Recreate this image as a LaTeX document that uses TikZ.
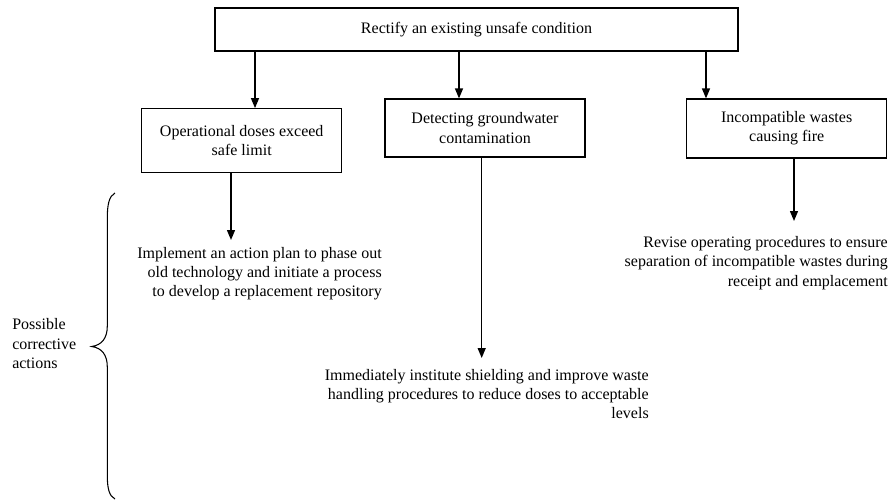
\documentclass[tikz,border=0pt]{standalone}
\usepackage{fontspec}
\setmainfont{Liberation Serif}
\usetikzlibrary{arrows.meta}
\begin{document}
\begin{tikzpicture}[x=0.75pt,y=-0.75pt,
  every node/.style={font=\fontsize{12}{14.4}\selectfont},
  box/.style={draw,line width=0.9pt,align=center,minimum width=150pt,inner sep=2pt},
  txt/.style={inner xsep=0pt,align=right,anchor=north east},
  arr/.style={line width=1pt,-{Triangle[length=7.5pt,width=6pt]}},
  brace/.style={line width=0.8pt}]
\useasboundingbox (0,0) rectangle (894,501);
% boxes
\node[box,minimum width=392.25pt,minimum height=32.25pt] (top) at (476.5,29.5) {Rectify an existing unsafe condition};
\node[box,minimum height=48pt] (b1) at (241.7,140.7) {Operational doses exceed\\safe limit};
\node[box,minimum height=43.5pt] (b2) at (485,128) {Detecting groundwater\\contamination};
\node[box,minimum height=44.25pt] (b3) at (786.7,128.5) {Incompatible wastes\\causing fire};
% action texts
\node[txt,inner ysep=5.25pt] (t1) at (382,240) {Implement an action plan to phase out\\old technology and initiate a process\\to develop a replacement repository};
\node[txt,inner ysep=8.25pt] (t2) at (649,358) {Immediately institute shielding and improve waste\\handling procedures to reduce doses to acceptable\\levels};
\node[txt,inner ysep=11.5pt] (t3) at (888,221) {Revise operating procedures to ensure\\separation of incompatible wastes during\\receipt and emplacement};
% label
\node[inner sep=0pt,align=left,anchor=north west] (lab) at (12,318.5) {Possible\\corrective\\actions};
% x positions of connectors
\coordinate (x1) at (255,0);
\coordinate (x2) at (459,0);
\coordinate (x3) at (706,0);
\coordinate (x4) at (231,0);
\coordinate (x5) at (481.7,0);
\coordinate (x6) at (794,0);
\draw[arr] (top.south -| x1) -- (b1.north -| x1);
\draw[arr] (top.south -| x2) -- (b2.north -| x2);
\draw[arr] (top.south -| x3) -- (b3.north -| x3);
\draw[arr] (b1.south -| x4) -- (t1.north -| x4);
\draw[arr] (b2.south -| x5) -- (t2.north -| x5);
\draw[arr] (b3.south -| x6) -- (t3.north -| x6);
% brace
\draw[brace] (115,193) .. controls (109,196) and (107.3,205) .. (107.3,218) -- (107.3,326) .. controls (107.3,338) and (102,345) .. (91.7,346.5) .. controls (102,348) and (107.3,355) .. (107.3,367) -- (107.3,475) .. controls (107.3,488) and (109,496) .. (115,499);
\end{tikzpicture}
\end{document}
